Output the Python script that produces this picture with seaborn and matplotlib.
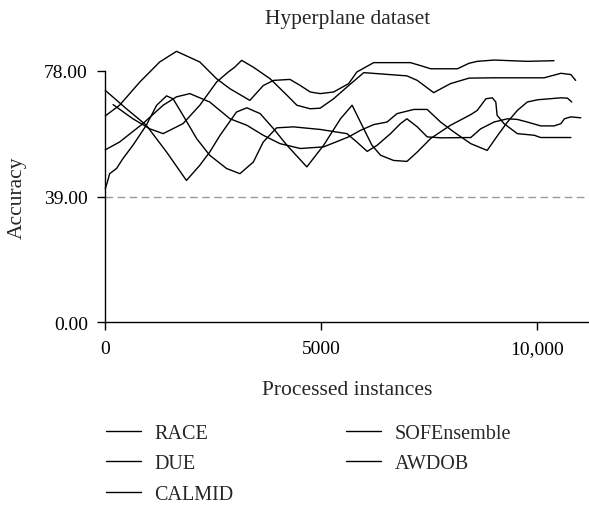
import numpy as np
import pandas as pd
import matplotlib
matplotlib.use("Agg")
import matplotlib.pyplot as plt
import seaborn as sns

# ---------------- data ----------------
race_x = [0, 330, 800, 1260, 1650, 2190, 2580, 2890, 3350, 3660, 3900, 4280, 4520, 4750, 4980,
          5290, 5640, 5830, 6220, 7070, 7300, 7540, 8160, 8430, 8620, 9010, 9780, 10400]
race_y = [64.0, 67.3, 74.5, 80.7, 84.0, 80.7, 75.5, 72.4, 68.8, 73.4, 75.0, 75.3, 73.4, 71.4, 70.9,
          71.4, 74.0, 77.6, 80.5, 80.5, 79.6, 78.6, 78.6, 80.3, 80.9, 81.3, 80.9, 81.1]

due_x = [180, 640, 1030, 1340, 1800, 2190, 2580, 2850, 3000, 3160, 3430, 3820, 4210, 4440, 4750,
         4980, 5290, 5640, 5990, 6990, 7230, 7610, 8000, 8430, 9010, 10170, 10560, 10790, 10900]
due_y = [67.5, 63.1, 60.0, 58.5, 61.6, 67.3, 74.5, 77.6, 79.1, 81.2, 79.1, 75.5, 70.4, 67.3, 66.2,
         66.4, 69.3, 73.4, 77.4, 76.4, 75.0, 71.2, 74.0, 75.7, 75.8, 75.8, 77.2, 76.8, 75.0]

calmid_x = [0, 330, 870, 1340, 1650, 1960, 2420, 2890, 3280, 3660, 4050, 4520, 5060, 5640, 5910,
            6220, 6530, 6760, 7150, 7460, 7770, 8080, 8470, 8850, 9090, 9320, 9550, 9780, 10020,
            10560, 10710, 10810]
calmid_y = [53.5, 55.9, 61.6, 67.3, 69.9, 70.9, 68.3, 63.1, 61.1, 58.0, 55.4, 53.9, 54.4, 57.5, 59.5,
            61.3, 62.1, 64.7, 66.0, 66.0, 62.1, 59.0, 55.4, 53.3, 57.9, 62.1, 65.7, 68.3, 69.0,
            69.6, 69.5, 68.3]

sof_x = [0, 50, 100, 260, 410, 640, 950, 1190, 1420, 1570, 1800, 2120, 2420, 2810, 3120, 3430,
         3660, 3970, 4360, 4980, 5600, 5830, 6070, 6300, 6610, 6840, 6990, 7230, 7460, 7770, 8470,
         8700, 9010, 9320, 9550, 9780, 10090, 10400, 10560, 10640, 10790, 11020]
sof_y = [41.5, 43.6, 46.1, 47.7, 50.8, 54.9, 61.1, 67.3, 70.2, 69.3, 64.2, 56.9, 51.8, 47.7, 46.1, 49.7,
         55.9, 60.3, 60.6, 59.8, 58.5, 55.9, 53.0, 54.9, 58.5, 61.6, 63.1, 60.6, 57.5, 57.2, 57.3,
         60.0, 62.1, 63.1, 62.9, 62.1, 60.9, 60.9, 61.6, 63.1, 63.7, 63.4]

awdob_x = [0, 490, 950, 1420, 1880, 2190, 2420, 2660, 3040, 3280, 3590, 3900, 4210, 4670, 5060,
           5450, 5720, 5990, 6180, 6380, 6680, 6990, 7230, 7540, 8000, 8470, 8620, 8820, 8970,
           9050, 9080, 9240, 9400, 9550, 9940, 10090, 10790]
awdob_y = [71.9, 66.2, 61.1, 52.8, 44.0, 48.7, 52.8, 58.0, 65.2, 66.5, 64.7, 60.0, 54.9, 48.2, 54.9,
           63.1, 67.3, 60.0, 54.9, 51.8, 50.2, 49.9, 52.8, 57.0, 61.1, 64.4, 65.7, 69.3, 69.6,
           68.3, 64.2, 61.6, 60.0, 58.5, 58.0, 57.3, 57.3]

methods = ["RACE", "DUE", "CALMID", "SOFEnsemble", "AWDOB"]
series_x = [race_x, due_x, calmid_x, sof_x, awdob_x]
series_y = [race_y, due_y, calmid_y, sof_y, awdob_y]

y_ticks = [0, 39, 78]
y_tick_labels = ["0.00", "39.00", "78.00"]
x_ticks = [0, 5000, 10000]
x_tick_labels = ["0", "5000", "10,000"]
baseline_value = 39

# ---------------- build long table ----------------
frames = []
for name, xs, ys in zip(methods, series_x, series_y):
    frames.append(pd.DataFrame({"instances": xs, "accuracy": ys, "method": name}))
df = pd.concat(frames, ignore_index=True)

# ---------------- style ----------------
sns.set_style("ticks")
plt.rcParams["font.family"] = ["Liberation Serif", "DejaVu Serif"]
plt.rcParams["axes.linewidth"] = 1.0

fig = plt.figure(figsize=(5.89, 5.06), dpi=100)
ax = fig.add_axes([0.1788, 0.3607, 0.8212, 0.4976])

sns.lineplot(data=df, x="instances", y="accuracy", hue="method", hue_order=methods,
             palette={m: "black" for m in methods}, estimator=None, sort=False,
             linewidth=1.0, ax=ax)

for ln in ax.lines:
    ln.set_clip_on(False)
    ln.set_solid_joinstyle("round")
    ln.set_solid_capstyle("round")

ax.axhline(baseline_value, color="#9a9a9a", linewidth=1.0, linestyle=(0, (5.5, 3.2)), zorder=0)

ax.set_xlim(0, 11210)
ax.set_ylim(0, 78)
ax.set_xticks(x_ticks)
ax.set_xticklabels(x_tick_labels)
ax.set_yticks(y_ticks)
ax.set_yticklabels(y_tick_labels)
ax.tick_params(axis="both", direction="out", length=5.5, width=1.0, pad=7,
               labelsize=14, colors="black")
sns.despine(ax=ax)
for s in ["left", "bottom"]:
    ax.spines[s].set_color("black")

ax.set_title("Hyperplane dataset", fontsize=15.5, pad=34.5)
ax.set_xlabel("Processed instances", fontsize=15.5, va="center")
ax.xaxis.set_label_coords(0.5, -0.266)
ax.set_ylabel("Accuracy", fontsize=15.5, va="center")
ax.yaxis.set_label_coords(-0.183, 0.5)

handles, labels = ax.get_legend_handles_labels()
if ax.get_legend() is not None:
    ax.get_legend().remove()
leg = fig.legend(handles, labels, loc="upper left", bbox_to_anchor=(0.18, 1 - 424.5 / 506),
                 ncol=2, frameon=False, fontsize=14.5, handlelength=1.72,
                 handletextpad=0.68, columnspacing=5.6, labelspacing=0.58,
                 borderpad=0, borderaxespad=0)
for h in leg.get_lines():
    h.set_linewidth(1.0)

fig.savefig("out.png", dpi=100)
